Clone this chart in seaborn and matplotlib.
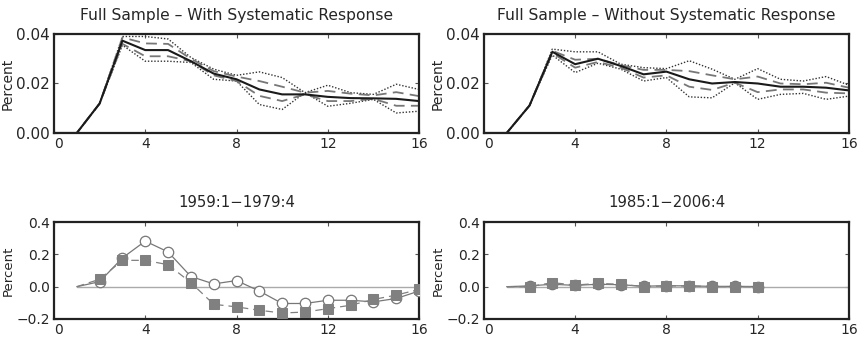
import numpy as np
import pandas as pd
import matplotlib
matplotlib.use("Agg")
import matplotlib.pyplot as plt
import matplotlib.transforms as mtransforms
import seaborn as sns

horizon = list(range(0, 17))

# Top-left: Full Sample - With Systematic Response
tl_median = [0, 0, 0.0119, 0.0373, 0.0335, 0.0335, 0.0290, 0.0240, 0.0217, 0.0176, 0.0156, 0.0156, 0.0146, 0.0141, 0.0140, 0.0138, 0.0129]
tl_dash_hi = [0, 0, 0.0119, 0.0386, 0.0362, 0.0360, 0.0300, 0.0250, 0.0228, 0.0210, 0.0187, 0.0163, 0.0170, 0.0159, 0.0152, 0.0165, 0.0149]
tl_dash_lo = [0, 0, 0.0119, 0.0360, 0.0310, 0.0310, 0.0290, 0.0233, 0.0210, 0.0150, 0.0129, 0.0156, 0.0129, 0.0129, 0.0138, 0.0110, 0.0110]
tl_dot_hi = [0, 0, 0.0119, 0.0390, 0.0390, 0.0380, 0.0305, 0.0258, 0.0233, 0.0247, 0.0224, 0.0163, 0.0193, 0.0163, 0.0156, 0.0197, 0.0176]
tl_dot_lo = [0, 0, 0.0119, 0.0355, 0.0290, 0.0290, 0.0285, 0.0217, 0.0210, 0.0115, 0.0095, 0.0163, 0.0108, 0.0120, 0.0136, 0.0081, 0.0088]

# Top-right: Full Sample - Without Systematic Response
tr_median = [0, 0, 0.0111, 0.0328, 0.0278, 0.0300, 0.0271, 0.0237, 0.0248, 0.0217, 0.0200, 0.0206, 0.0200, 0.0187, 0.0187, 0.0183, 0.0172]
tr_dash_hi = [0, 0, 0.0111, 0.0332, 0.0296, 0.0300, 0.0274, 0.0255, 0.0255, 0.0250, 0.0233, 0.0217, 0.0228, 0.0200, 0.0197, 0.0203, 0.0183]
tr_dash_lo = [0, 0, 0.0111, 0.0323, 0.0264, 0.0287, 0.0264, 0.0224, 0.0233, 0.0187, 0.0174, 0.0203, 0.0165, 0.0176, 0.0176, 0.0163, 0.0160]
tr_dot_hi = [0, 0, 0.0111, 0.0339, 0.0328, 0.0328, 0.0278, 0.0264, 0.0260, 0.0292, 0.0258, 0.0217, 0.0260, 0.0217, 0.0210, 0.0228, 0.0193]
tr_dot_lo = [0, 0, 0.0111, 0.0315, 0.0244, 0.0282, 0.0258, 0.0210, 0.0224, 0.0146, 0.0142, 0.0203, 0.0136, 0.0156, 0.0160, 0.0136, 0.0149]

# Bottom panels (horizon 1..16)
sub_h = list(range(1, 17))
bl_circles = [0, 0.031, 0.178, 0.282, 0.215, 0.063, 0.017, 0.038, -0.027, -0.104, -0.104, -0.084, -0.084, -0.094, -0.073, -0.027]
bl_squares = [0, 0.046, 0.163, 0.163, 0.136, 0.025, -0.109, -0.125, -0.146, -0.163, -0.157, -0.136, -0.115, -0.079, -0.052, -0.017]

br_h = list(range(1, 13))
br_circles = [0, 0.005, 0.015, 0.008, 0.015, 0.012, 0.003, 0.006, 0.005, 0.002, 0.002, 0.001]
br_squares = [0, 0.000, 0.025, 0.010, 0.020, 0.015, 0.000, 0.005, 0.005, 0.000, 0.000, 0.000]

titles = ["Full Sample \u2013 With Systematic Response",
          "Full Sample \u2013 Without Systematic Response",
          "1959:1\u22121979:4",
          "1985:1\u22122006:4"]

sns.set_style("ticks")
plt.rcParams['font.family'] = ['DejaVu Sans']

fig = plt.figure(figsize=(8.61, 3.39), dpi=100)
W = 0.424
pos = [[0.0627, 0.6077, W, 0.292],
       [0.562, 0.6077, W, 0.292],
       [0.0627, 0.059, W, 0.286],
       [0.562, 0.059, W, 0.286]]
axes = [fig.add_axes(p) for p in pos]

def band_plot(ax, med, dhi, dlo, phi, plo):
    df = pd.DataFrame({"h": horizon, "med": med, "dhi": dhi, "dlo": dlo, "phi": phi, "plo": plo})
    for col in ["phi", "plo"]:
        sns.lineplot(data=df, x="h", y=col, ax=ax, color="#333333", lw=1.0, ls=(0, (1, 1.3)))
    for col in ["dhi", "dlo"]:
        sns.lineplot(data=df, x="h", y=col, ax=ax, color="#777777", lw=1.3, ls=(0, (6, 3.5)))
    sns.lineplot(data=df, x="h", y="med", ax=ax, color="#1a1a1a", lw=1.5)
    ax.set_ylim(0, 0.04)
    ax.set_yticks([0, 0.02, 0.04])
    ax.set_yticklabels(["0.00", "0.02", "0.04"])

band_plot(axes[0], tl_median, tl_dash_hi, tl_dash_lo, tl_dot_hi, tl_dot_lo)
band_plot(axes[1], tr_median, tr_dash_hi, tr_dash_lo, tr_dot_hi, tr_dot_lo)

def sub_plot(ax, hc, circ, hs, sq, filled_circles):
    ax.plot([1, 16], [0, 0], color="#aaaaaa", lw=1.0, zorder=1)
    dfc = pd.DataFrame({"h": hc, "v": circ})
    dfs = pd.DataFrame({"h": hs, "v": sq})
    sns.lineplot(data=dfc, x="h", y="v", ax=ax, color="#777777", lw=0.9,
                 marker="o", markersize=7.5,
                 markerfacecolor=("#888888" if filled_circles else "white"),
                 markeredgecolor="#777777", markeredgewidth=0.9,
                 markevery=list(range(1, len(hc))), zorder=3)
    sns.lineplot(data=dfs, x="h", y="v", ax=ax, color="#808080", lw=0.9,
                 ls=(0, (6, 4)), marker="s", markersize=7,
                 markerfacecolor="#808080", markeredgecolor="#808080",
                 markevery=list(range(1, len(hs))), zorder=4)
    ax.set_ylim(-0.2, 0.4)
    ax.set_yticks([-0.2, 0.0, 0.2, 0.4])
    ax.set_yticklabels(["\u22120.2", "0.0", "0.2", "0.4"])

sub_plot(axes[2], sub_h, bl_circles, sub_h, bl_squares, False)
sub_plot(axes[3], br_h, br_circles, br_h, br_squares, True)

for i, (ax, t) in enumerate(zip(axes, titles)):
    top = i < 2
    ax.set_xlim(0, 16)
    ax.set_xticks([0, 4, 8, 12, 16])
    ax.set_xlabel("")
    ax.set_ylabel("Percent", fontsize=(10 if top else 9.5), labelpad=1)
    ax.set_title(t, fontsize=(11.2 if top else 10.7), pad=(10 if top else 11))
    ax.tick_params(direction="in", length=3, width=0.8, top=True, right=True,
                   color="#555555")
    ax.tick_params(axis="x", labelsize=10, pad=3)
    ax.tick_params(axis="y", labelsize=(11 if top else 10), pad=3)
    for s in ax.spines.values():
        s.set_linewidth(1.6)
        s.set_color("#222222")
    if ax.get_legend():
        ax.get_legend().remove()
    # shift the "0" x tick label a little to the right, as in the reference
    lab0 = ax.get_xticklabels()[0]
    lab0.set_transform(lab0.get_transform() +
                       mtransforms.ScaledTranslation(5 / 100, 0, fig.dpi_scale_trans))

fig.savefig("out.png", dpi=100)
